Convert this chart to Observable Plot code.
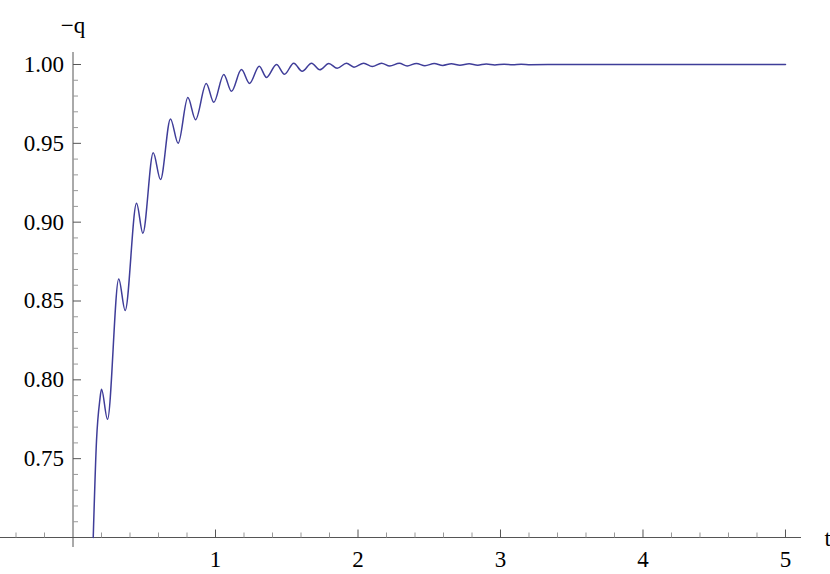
<!DOCTYPE html>
<html><head><meta charset="utf-8">
<script src="https://cdn.jsdelivr.net/npm/d3@7"></script>
<script src="https://cdn.jsdelivr.net/npm/@observablehq/plot@0.6"></script>
<style>
body{margin:0;background:#fff}
#chart svg text{font-family:"Liberation Serif","DejaVu Serif","Times New Roman",serif !important;font-size:23px !important;}
</style>
</head><body><div id="chart"></div>
<script>
// t values (start, peaks and troughs, then settled)
const tValues = [0.142, 0.165, 0.188, 0.200, 0.242, 0.321, 0.366, 0.446, 0.490, 0.563, 0.614,
  0.684, 0.738, 0.806, 0.860, 0.935, 0.988, 1.058, 1.112, 1.182, 1.239, 1.307, 1.358,
  1.428, 1.484, 1.549, 1.608, 1.674, 1.732, 1.795, 1.854, 1.919, 1.972, 2.040, 2.100,
  2.165, 2.223, 2.290, 2.345, 2.410, 2.470, 2.535, 2.595, 2.655, 2.715, 2.780, 2.840,
  2.900, 2.960, 3.025, 3.085, 3.145, 3.210, 3.400, 3.800, 4.200, 4.600, 5.000];
// -q values
const qValues = [0.700, 0.7615, 0.787, 0.794, 0.775, 0.864, 0.844, 0.912, 0.893, 0.944, 0.927,
  0.9655, 0.950, 0.979, 0.965, 0.988, 0.976, 0.9937, 0.983, 0.9968, 0.988, 0.9989, 0.9918,
  1.0000, 0.9938, 1.0008, 0.9957, 1.0008, 0.9966, 1.0006, 0.9976, 1.0008, 0.9983, 1.0008, 0.9987,
  1.0008, 0.9990, 1.0008, 0.9991, 1.0007, 0.9992, 1.0006, 0.9994, 1.0005, 0.9995, 1.0004, 0.9996,
  1.0003, 0.9997, 1.0002, 0.99985, 1.00015, 0.9999, 1.0000, 1.0000, 1.0000, 1.0000, 1.0000];

const xTickLabels = [1, 2, 3, 4, 5];
const yTickLabels = [0.75, 0.80, 0.85, 0.90, 0.95, 1.00];
const xMinorTicks = d3.range(-2, 26).filter(i => i % 5 !== 0).map(i => i / 5);
const yMinorTicks = d3.range(71, 100).filter(i => i % 5 !== 0).map(i => i / 100);
const yCross = 0.70;
const xLabel = "t";
const yLabel = "\u2212q";

const rows = tValues.map((t, i) => ({t, q: qValues[i]}));

const tickUp = len => ({draw(ctx) { ctx.moveTo(0, 0); ctx.lineTo(0, -len); }});
const tickRight = len => ({draw(ctx) { ctx.moveTo(0, 0); ctx.lineTo(len, 0); }});

const font = {fontFamily: "Liberation Serif", fontSize: 23, fill: "#000"};
const axisColor = "#555";
const minorColor = "#999";

const chart = Plot.plot({
  width: 830,
  height: 574,
  marginLeft: 0,
  marginRight: 29,
  marginTop: 52,
  marginBottom: 27,
  x: {domain: [-0.5088, 5.1123], axis: null},
  y: {domain: [0.69366, 1.00761], axis: null},
  marks: [
    Plot.ruleY([yCross], {stroke: axisColor, strokeWidth: 1}),
    Plot.ruleX([0], {stroke: axisColor, strokeWidth: 1}),
    Plot.dot(xMinorTicks, {x: d => d, y: () => yCross, symbol: tickUp(5), stroke: minorColor, fill: "none", strokeWidth: 1}),
    Plot.dot(xTickLabels, {x: d => d, y: () => yCross, symbol: tickUp(8), stroke: axisColor, fill: "none", strokeWidth: 1}),
    Plot.dot(yMinorTicks, {x: () => 0, y: d => d, symbol: tickRight(5), stroke: minorColor, fill: "none", strokeWidth: 1}),
    Plot.dot(yTickLabels, {x: () => 0, y: d => d, symbol: tickRight(8), stroke: axisColor, fill: "none", strokeWidth: 1}),
    Plot.text(xTickLabels, {x: d => d, y: () => yCross, text: d => String(d), dy: 22, ...font}),
    Plot.text(yTickLabels, {x: () => 0, y: d => d, text: d => d.toFixed(2), textAnchor: "end", dx: -9, ...font}),
    Plot.text([xLabel], {y: () => yCross, frameAnchor: "right", textAnchor: "start", dx: 23, dy: 1, text: d => d, ...font}),
    Plot.text([yLabel], {x: () => 0, frameAnchor: "top", dy: -36, text: d => d, ...font}),
    Plot.line(rows, {x: "t", y: "q", curve: "monotone-x", stroke: "#3f3d99", strokeWidth: 1.5})
  ]
});
d3.select(chart).selectAll("text").style("font-family", "'Liberation Serif', 'DejaVu Serif', serif");
document.getElementById("chart").appendChild(chart);
</script>
</body></html>
